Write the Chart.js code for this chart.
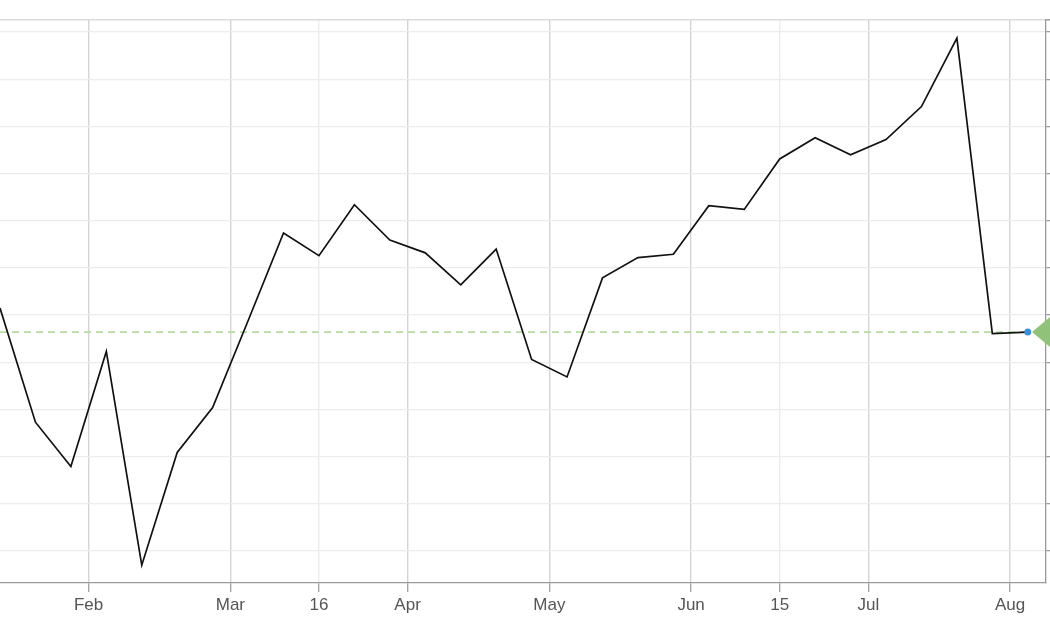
<!DOCTYPE html>
<html>
<head>
<meta charset="utf-8">
<script src="https://cdn.jsdelivr.net/npm/chart.js@4.4.1/dist/chart.umd.min.js"></script>
<style>
html,body{margin:0;padding:0;background:#fff;overflow:hidden;}
canvas{display:block;}
</style>
</head>
<body>
<canvas id="c" width="1050" height="630"></canvas>
<script>
// Weekly observations
const weeks = ['Jan 12','Jan 19','Jan 26','Feb 2','Feb 9','Feb 16','Feb 23','Mar 2','Mar 9','Mar 16',
  'Mar 23','Mar 30','Apr 6','Apr 13','Apr 20','Apr 27','May 4','May 11','May 18','May 25',
  'Jun 1','Jun 8','Jun 15','Jun 22','Jun 29','Jul 6','Jul 13','Jul 20','Jul 27','Aug 3'];
const values = [6.15, 3.73, 2.79, 5.23, 0.70, 3.09, 4.04, 5.88, 7.74, 7.26,
  8.34, 7.59, 7.32, 6.64, 7.40, 5.06, 4.69, 6.79, 7.22, 7.29,
  8.32, 8.24, 9.31, 9.76, 9.40, 9.72, 10.42, 11.87, 5.61, 5.64];

// x-axis ticks (positions in week index units) and their labels
const tickPositions = [2.5, 6.5, 9, 11.5, 15.5, 19.5, 22, 24.5, 28.5];
const tickLabels = ['Feb', 'Mar', '16', 'Apr', 'May', 'Jun', '15', 'Jul', 'Aug'];
const minorLabels = ['16', '15'];

// y-axis range
const yMin = 0.32, yMax = 12.255, yStep = 1;

const lastValue = values[values.length - 1];

Chart.defaults.font.family = "'Liberation Sans', Arial, Helvetica, sans-serif";

const lastValuePlugin = {
  id: 'lastValue',
  beforeDatasetsDraw(chart) {
    const {ctx, chartArea, scales: {y}} = chart;
    const py = y.getPixelForValue(lastValue);
    ctx.save();
    ctx.strokeStyle = '#b8dba4';
    ctx.lineWidth = 1.6;
    ctx.setLineDash([7, 5]);
    ctx.beginPath();
    ctx.moveTo(chartArea.left, py);
    ctx.lineTo(chartArea.right - 14, py);
    ctx.stroke();
    ctx.restore();
  },
  afterDatasetsDraw(chart) {
    const {ctx, chartArea, scales: {y}} = chart;
    const py = y.getPixelForValue(lastValue);
    const tip = chartArea.right - 13.5;
    const far = chart.width + 20;
    const h = (far - tip) * (15 / 18);
    ctx.save();
    ctx.fillStyle = '#90c27a';
    ctx.beginPath();
    ctx.moveTo(tip, py);
    ctx.lineTo(far, py - h);
    ctx.lineTo(far, py + h);
    ctx.closePath();
    ctx.fill();
    ctx.restore();
  }
};

new Chart(document.getElementById('c'), {
  type: 'line',
  data: {
    datasets: [{
      data: values.map((v, i) => ({x: i, y: v})),
      borderColor: '#111111',
      borderWidth: 1.7,
      tension: 0,
      fill: false,
      pointRadius: ctx => ctx.dataIndex === values.length - 1 ? 3.5 : 0,
      pointHoverRadius: ctx => ctx.dataIndex === values.length - 1 ? 4 : 0,
      pointBackgroundColor: '#3d8fd8',
      pointBorderWidth: 0
    }]
  },
  options: {
    responsive: false,
    animation: false,
    devicePixelRatio: 1,
    layout: {autoPadding: false, padding: {top: 20, bottom: 11.5, left: 0, right: 0}},
    plugins: {
      legend: {display: false},
      tooltip: {
        callbacks: {
          title: items => weeks[items[0].parsed.x]
        }
      }
    },
    scales: {
      x: {
        type: 'linear',
        min: 0,
        max: values.length - 0.5,
        afterBuildTicks: scale => {
          scale.ticks = tickPositions.map(v => ({value: v}));
        },
        afterFit: scale => {
          scale.paddingLeft = 0;
        },
        ticks: {
          autoSkip: false,
          maxRotation: 0,
          padding: 3,
          color: '#555555',
          font: {size: 17},
          callback: v => {
            const k = tickPositions.indexOf(v);
            return k >= 0 ? tickLabels[k] : '';
          }
        },
        grid: {
          color: ctx => (ctx.tick && minorLabels.includes(tickLabels[tickPositions.indexOf(ctx.tick.value)])) ? '#ececec' : '#d4d4d4',
          lineWidth: 1.4,
          tickLength: 9,
          tickColor: '#a0a0a0',
          tickWidth: 1.3
        },
        border: {display: true, color: '#9a9a9a', width: 1.3}
      },
      y: {
        type: 'linear',
        position: 'right',
        min: yMin,
        max: yMax,
        afterBuildTicks: scale => {
          const t = [];
          for (let v = Math.ceil(scale.min); v <= scale.max; v += yStep) t.push({value: v});
          t.push({value: scale.max});
          scale.ticks = t;
        },
        ticks: {
          display: false,
          stepSize: yStep
        },
        grid: {
          color: ctx => (ctx.tick && ctx.tick.value === yMax) ? '#dcdcdc' : '#ececec',
          lineWidth: ctx => (ctx.tick && ctx.tick.value === yMax) ? 1.6 : 1.3,
          tickLength: 4.5,
          tickColor: '#a0a0a0'
        },
        border: {display: true, color: '#9a9a9a', width: 1.3}
      }
    }
  },
  plugins: [lastValuePlugin]
});
</script>
</body>
</html>
